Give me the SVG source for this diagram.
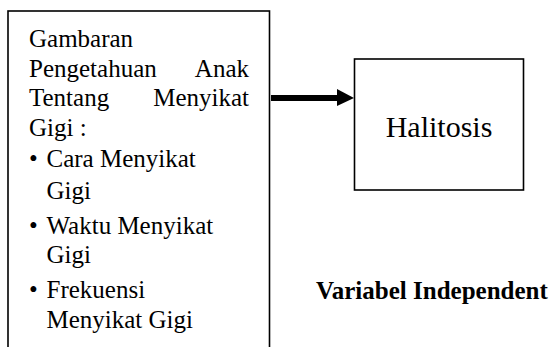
<svg xmlns="http://www.w3.org/2000/svg" width="552" height="347" viewBox="0 0 552 347">
  <style>
    .box { fill: #fff; stroke: #000; stroke-width: 1.6; }
    .t { font-family: "Liberation Serif", "Times New Roman", serif; font-size: 25px; fill: #000; }
    .end { text-anchor: end; }
    .title { font-family: "Liberation Serif", "Times New Roman", serif; font-size: 30px; fill: #000; text-anchor: middle; }
    .label { font-family: "Liberation Serif", "Times New Roman", serif; font-size: 25px; font-weight: bold; fill: #000; }
  </style>
  <rect width="552" height="347" fill="#fff"/>

  <!-- independent variable box (runs past the bottom edge) -->
  <g id="node-pengetahuan">
    <rect class="box" x="8" y="11" width="261.5" height="400"/>
    <text class="t" x="29" y="47">Gambaran</text>
    <text class="t" x="29" y="77">Pengetahuan</text>
    <text class="t end" x="249" y="77">Anak</text>
    <text class="t" x="29" y="106">Tentang</text>
    <text class="t end" x="249" y="106">Menyikat</text>
    <text class="t" x="29" y="136">Gigi :</text>
    <text class="t" x="29" y="167">•</text>
    <text class="t" x="46.5" y="167">Cara Menyikat</text>
    <text class="t" x="46.5" y="199">Gigi</text>
    <text class="t" x="29" y="234">•</text>
    <text class="t" x="46.5" y="234">Waktu Menyikat</text>
    <text class="t" x="46.5" y="263">Gigi</text>
    <text class="t" x="29" y="298">•</text>
    <text class="t" x="46.5" y="298">Frekuensi</text>
    <text class="t" x="46.5" y="328">Menyikat Gigi</text>
  </g>

  <!-- dependent variable box -->
  <g id="node-halitosis">
    <rect class="box" x="354.5" y="59" width="169" height="131"/>
    <text class="title" x="439" y="137">Halitosis</text>
  </g>

  <g id="connectors">
    <line x1="271" y1="98" x2="338" y2="98" stroke="#000" stroke-width="6"/>
    <polygon points="337,89 354,98 337,106" fill="#000"/>
  </g>

  <g id="caption">
    <text class="label" x="316" y="299">Variabel Independent</text>
  </g>
</svg>
